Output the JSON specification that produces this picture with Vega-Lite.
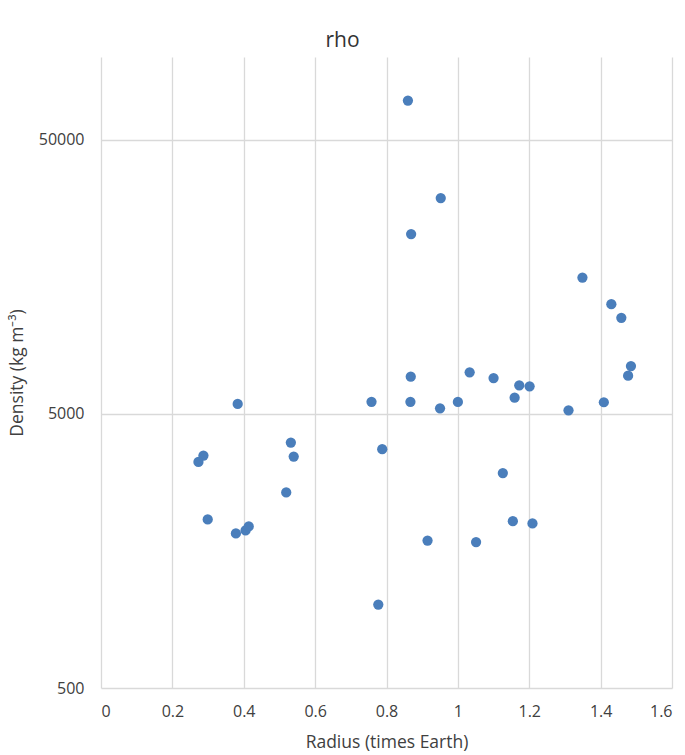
{
  "$schema": "https://vega.github.io/schema/vega-lite/v6.json",
  "autosize": {"type": "none"},
  "padding": {"left": 101, "top": 57, "right": 13, "bottom": 67},
  "width": 571,
  "height": 631,
  "background": "white",
  "title": {"text": "rho", "fontSize": 21, "font": "Open Sans", "fontWeight": "normal", "color": "#333333", "anchor": "middle", "dx": -44, "offset": 6},
  "config": {"view": {"stroke": null}},
  "data": {"values": [
    {"radius": 0.860, "density": 69330},
    {"radius": 0.952, "density": 30580},
    {"radius": 0.869, "density": 22620},
    {"radius": 1.349, "density": 15690},
    {"radius": 1.430, "density": 12550},
    {"radius": 1.458, "density": 11190},
    {"radius": 1.485, "density": 7464},
    {"radius": 1.477, "density": 6882},
    {"radius": 0.868, "density": 6825},
    {"radius": 1.033, "density": 7080},
    {"radius": 1.100, "density": 6747},
    {"radius": 1.172, "density": 6350},
    {"radius": 1.201, "density": 6297},
    {"radius": 1.159, "density": 5723},
    {"radius": 0.758, "density": 5530},
    {"radius": 0.867, "density": 5530},
    {"radius": 0.383, "density": 5430},
    {"radius": 1.000, "density": 5520},
    {"radius": 1.409, "density": 5508},
    {"radius": 0.950, "density": 5236},
    {"radius": 1.310, "density": 5148},
    {"radius": 0.532, "density": 3926},
    {"radius": 0.540, "density": 3491},
    {"radius": 0.287, "density": 3520},
    {"radius": 0.273, "density": 3338},
    {"radius": 0.788, "density": 3713},
    {"radius": 1.126, "density": 3038},
    {"radius": 0.519, "density": 2582},
    {"radius": 0.299, "density": 2060},
    {"radius": 0.378, "density": 1831},
    {"radius": 0.405, "density": 1878},
    {"radius": 0.414, "density": 1942},
    {"radius": 1.154, "density": 2030},
    {"radius": 1.209, "density": 1991},
    {"radius": 0.915, "density": 1725},
    {"radius": 1.051, "density": 1703},
    {"radius": 0.777, "density": 1007}
  ]},
  "mark": {"type": "point", "filled": true, "size": 105, "color": "#4a7ebb", "opacity": 1},
  "encoding": {
    "x": {
      "field": "radius", "type": "quantitative",
      "scale": {"domain": [0, 1.6], "nice": false, "zero": true},
      "axis": {
        "title": "Radius (times Earth)",
        "values": [0, 0.2, 0.4, 0.6, 0.8, 1, 1.2, 1.4, 1.6],
        "format": "~g",
        "domain": false, "ticks": false,
        "grid": true, "gridColor": "#d9d9d9", "gridWidth": 1.3,
        "labelPadding": 15, "labelFont": "Open Sans", "labelFontSize": 16, "labelColor": "#404040",
        "titleFont": "Open Sans", "titleFontSize": 17.5, "titleFontWeight": "normal", "titleColor": "#404040", "titlePadding": 14
      }
    },
    "y": {
      "field": "density", "type": "quantitative",
      "scale": {"type": "log", "domain": [500, 100000], "nice": false},
      "axis": {
        "title": "Density (kg m⁻³)",
        "values": [500, 5000, 50000],
        "format": "d",
        "domain": false, "ticks": false,
        "grid": true, "gridColor": "#d9d9d9", "gridWidth": 1.3,
        "labelPadding": 17, "labelFont": "Open Sans", "labelFontSize": 16, "labelColor": "#404040",
        "titleFont": "Open Sans", "titleFontSize": 17.5, "titleFontWeight": "normal", "titleColor": "#404040", "titlePadding": 12
      }
    }
  }
}
